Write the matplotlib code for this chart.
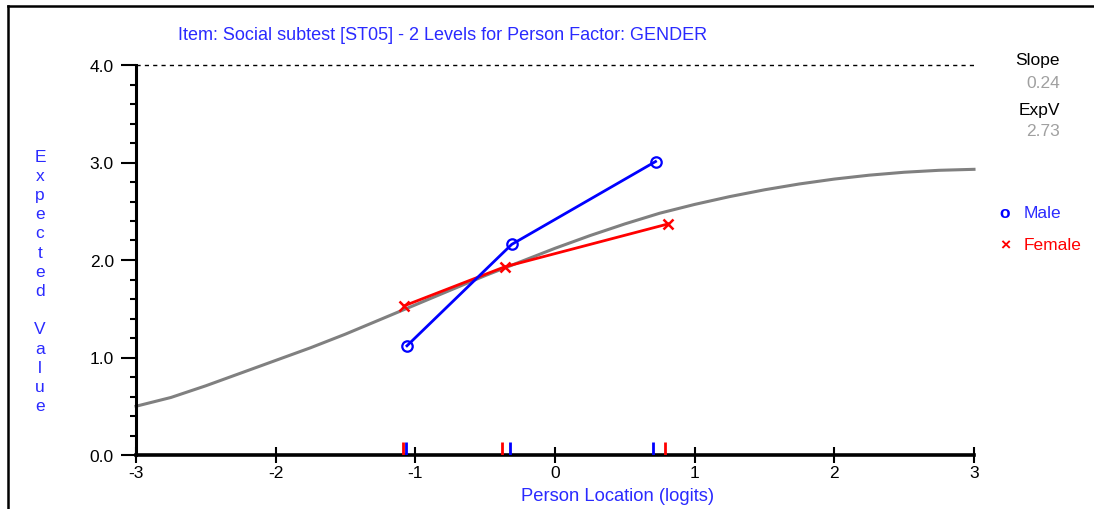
import matplotlib
matplotlib.use("Agg")
import matplotlib.pyplot as plt
from matplotlib.ticker import MultipleLocator

plt.rcParams['font.family'] = ['Liberation Sans', 'DejaVu Sans']

# ---- data ----
title = "Item: Social subtest [ST05] - 2 Levels for Person Factor: GENDER"
curve_x = [-3.0, -2.75, -2.5, -2.25, -2.0, -1.75, -1.5, -1.25, -1.0, -0.75, -0.5,
           -0.25, 0.0, 0.25, 0.5, 0.75, 1.0, 1.25, 1.5, 1.75, 2.0, 2.25, 2.5,
           2.75, 3.0]
curve_y = [0.50, 0.59, 0.71, 0.84, 0.97, 1.10, 1.24, 1.39, 1.54, 1.69, 1.84,
           1.98, 2.12, 2.25, 2.37, 2.48, 2.57, 2.65, 2.72, 2.78, 2.83, 2.87,
           2.90, 2.92, 2.93]

male_x = [-1.06, -0.31, 0.72]
male_y = [1.12, 2.16, 3.01]
female_x = [-1.08, -0.36, 0.81]
female_y = [1.53, 1.93, 2.37]

male_rug = [-1.07, -0.32, 0.70]
female_rug = [-1.09, -0.38, 0.79]

x_ticks = [-3, -2, -1, 0, 1, 2, 3]
y_ticks = [0.0, 1.0, 2.0, 3.0, 4.0]
y_tick_labels = ["0.0", "1.0", "2.0", "3.0", "4.0"]

slope_value = "0.24"
expv_value = "2.73"
groups = ["Male", "Female"]

BLUE = "#0000ff"
TXT_BLUE = "#2a2aff"
RED = "#ff0000"
GRAY = "#808080"
FS = 12.5

W, H = 1094, 510
fig = plt.figure(figsize=(W / 100, H / 100), dpi=100)

def fx(px):
    return px / W

def fy(py):
    return 1 - py / H

ax = fig.add_axes([fx(136), fy(456), fx(974) - fx(136), fy(66) - fy(456)])
ax.set_xlim(-3, 3)
ax.set_ylim(0, 4)

# reference line at max score
ax.plot([-3, 3], [4, 4], color="black", lw=1.0, ls=(0, (3, 3)), clip_on=False)

# expected value curve
ax.plot(curve_x, curve_y, color=GRAY, lw=2.2, clip_on=False, zorder=2)

# group observed means
ax.plot(male_x, male_y, color=BLUE, lw=2.0, marker="o", ms=7.5, mfc="none",
        mec=BLUE, mew=1.6, zorder=4)
ax.plot(female_x, female_y, color=RED, lw=2.0, marker="x", ms=6.5, mew=1.8,
        zorder=3)

# rug ticks
ax.vlines(female_rug, 0, 0.13, colors=RED, lw=2.0, zorder=5)
ax.vlines(male_rug, 0, 0.13, colors=BLUE, lw=2.0, zorder=5)

# spines
for s in ["top", "right"]:
    ax.spines[s].set_visible(False)
ax.spines["left"].set_linewidth(2.2)
ax.spines["bottom"].set_linewidth(2.6)

ax.set_xticks(x_ticks)
ax.set_xticklabels([str(t) for t in x_ticks])
ax.set_yticks(y_ticks)
ax.set_yticklabels(y_tick_labels)
ax.yaxis.set_minor_locator(MultipleLocator(0.2))
ax.tick_params(axis="x", which="major", direction="inout", length=12, width=1.5,
               labelsize=FS, pad=1, colors="black")
ax.tick_params(axis="y", which="major", direction="out", length=11, width=1.5,
               labelsize=FS, pad=5)
ax.tick_params(axis="y", which="minor", direction="out", length=4, width=1.5)

# x label
fig.text(fx(618), fy(497), "Person Location (logits)", color=TXT_BLUE,
         fontsize=13.2, ha="center", va="center")

# stacked y label
ylab = "Expected Value"
for i, ch in enumerate(ylab):
    if ch.strip():
        fig.text(fx(40), fy(157 + i * 19.2), ch, color=TXT_BLUE, fontsize=FS,
                 ha="center", va="center")

# title
fig.text(fx(443), fy(36), title, color=TXT_BLUE, fontsize=13.0,
         ha="center", va="center")

# side stats
fig.text(fx(1060), fy(60), "Slope", color="black", fontsize=FS, ha="right", va="center")
fig.text(fx(1060), fy(83), slope_value, color="#a0a0a0", fontsize=FS, ha="right", va="center")
fig.text(fx(1060), fy(110), "ExpV", color="black", fontsize=FS, ha="right", va="center")
fig.text(fx(1060), fy(132), expv_value, color="#a0a0a0", fontsize=FS, ha="right", va="center")

# legend
fig.text(fx(1005), fy(213), "o", color=BLUE, fontsize=FS, fontweight="bold",
         ha="center", va="center")
fig.text(fx(1024), fy(214), groups[0], color=TXT_BLUE, fontsize=FS, ha="left", va="center")
fig.text(fx(1005), fy(246), "\u00d7", color=RED, fontsize=FS, fontweight="bold",
         ha="center", va="center")
fig.text(fx(1024), fy(246), groups[1], color=RED, fontsize=FS, ha="left", va="center")

# outer frame (top and left edges)
fig.add_artist(plt.Line2D([fx(8), 1], [fy(7), fy(7)], color="black", lw=1.8,
                          transform=fig.transFigure))
fig.add_artist(plt.Line2D([fx(8), fx(8)], [0, fy(7)], color="black", lw=1.8,
                          transform=fig.transFigure))

fig.savefig("out.png", dpi=100)
